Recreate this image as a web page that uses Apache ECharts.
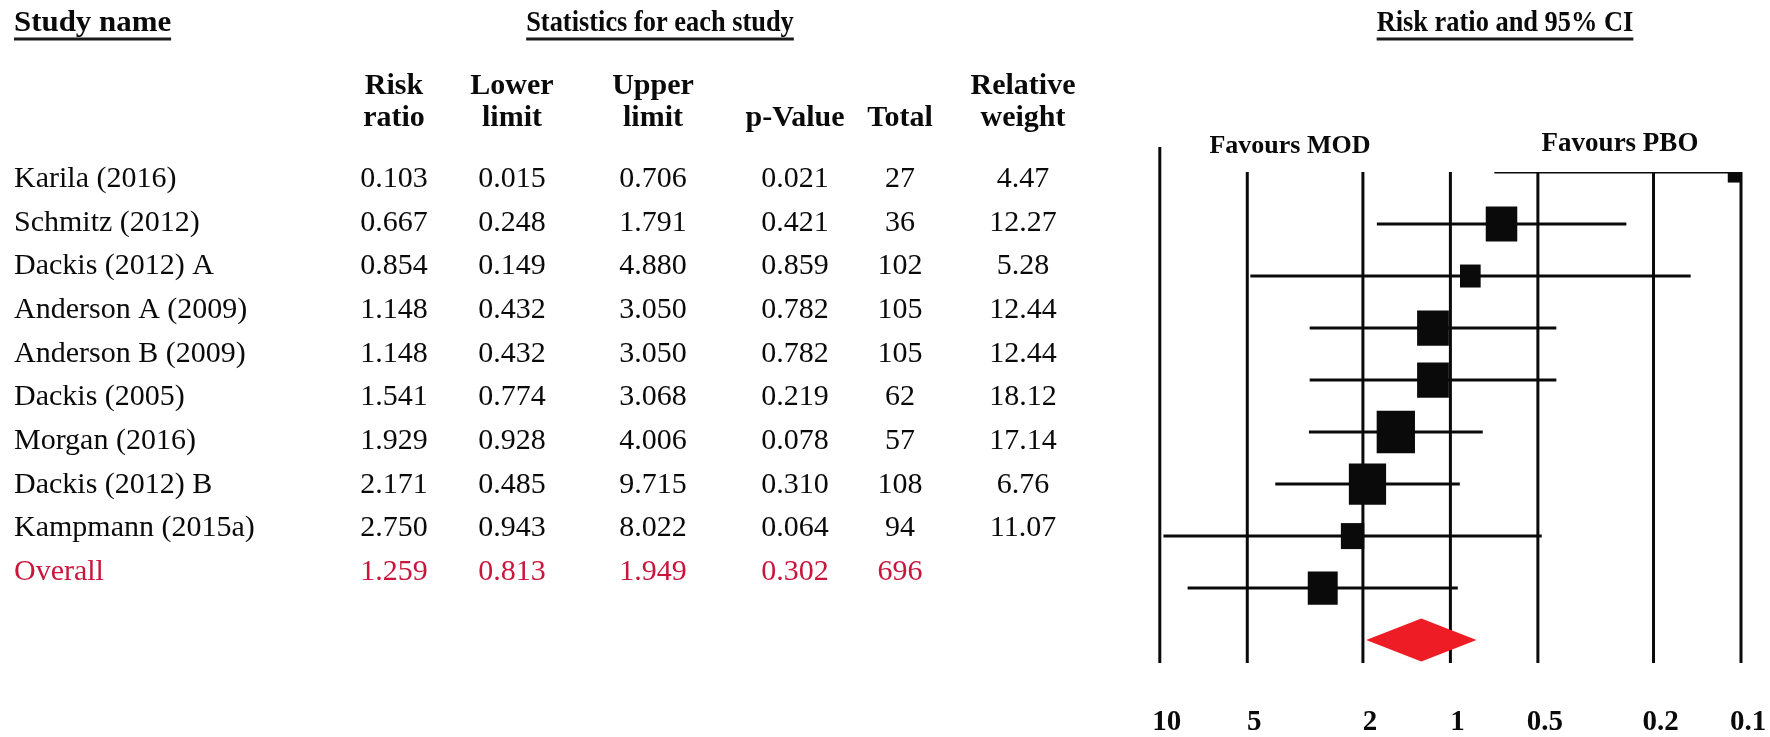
<!DOCTYPE html>
<html>
<head>
<meta charset="utf-8">
<script src="https://cdn.jsdelivr.net/npm/echarts@6/dist/echarts.min.js"></script>
<style>
  html, body { margin: 0; padding: 0; background: #ffffff; }
  #chart { width: 1770px; height: 737px; }
</style>
</head>
<body>
<div id="chart"></div>
<script>
// ---- Study data -------------------------------------------------------
const studyNames = [
  'Karila (2016)', 'Schmitz (2012)', 'Dackis (2012) A', 'Anderson A (2009)',
  'Anderson B (2009)', 'Dackis (2005)', 'Morgan (2016)', 'Dackis (2012) B',
  'Kampmann (2015a)', 'Overall'
];
const riskRatio  = [0.103, 0.667, 0.854, 1.148, 1.148, 1.541, 1.929, 2.171, 2.750, 1.259];
const lowerLimit = [0.015, 0.248, 0.149, 0.432, 0.432, 0.774, 0.928, 0.485, 0.943, 0.813];
const upperLimit = [0.706, 1.791, 4.880, 3.050, 3.050, 3.068, 4.006, 9.715, 8.022, 1.949];
const pValue     = [0.021, 0.421, 0.859, 0.782, 0.782, 0.219, 0.078, 0.310, 0.064, 0.302];
const totalN     = [27, 36, 102, 105, 105, 62, 57, 108, 94, 696];
const relWeight  = [4.47, 12.27, 5.28, 12.44, 12.44, 18.12, 17.14, 6.76, 11.07, null];
const axisTicks  = [10, 5, 2, 1, 0.5, 0.2, 0.1];

// ---- Layout / style ---------------------------------------------------
const SERIF = '"Liberation Serif", "Times New Roman", serif';
const INK = '#0a0a0a';
const OVERALL_TEXT = '#c8163c';
const DIAMOND_RED = '#ee1c24';
const colX = [14, 394, 512, 653, 795, 900, 1023];          // table column anchors
const headTop = ['', 'Risk', 'Lower', 'Upper', '', '', 'Relative'];
const headBottom = ['', 'ratio', 'limit', 'limit', 'p-Value', 'Total', 'weight'];
const ROW_MAX = 9.44;

const measure = (() => {
  const ctx = document.createElement('canvas').getContext('2d');
  return (text, font) => { ctx.font = font; return ctx.measureText(text).width; };
})();

const chart = echarts.init(document.getElementById('chart'), null, { renderer: 'canvas' });

// underlined bold heading, optionally condensed horizontally
function heading(text, x, y, align, squeeze) {
  const font = 'bold 30px ' + SERIF;
  const w = measure(text, font);
  const x0 = align === 'center' ? -w / 2 : 0;
  return {
    type: 'group', x, y, scaleX: squeeze || 1,
    children: [
      { type: 'text', style: { text, x: 0, y: 0, align, verticalAlign: 'middle', font, fill: INK } },
      { type: 'line', shape: { x1: x0, y1: 16, x2: x0 + w, y2: 16 },
        style: { stroke: '#1a1a1a', lineWidth: 3 } }
    ]
  };
}

const graphics = [
  heading('Study name', colX[0], 23, 'left', 1.03),
  heading('Statistics for each study', 660, 23, 'center', 0.88),
  heading('Risk ratio and 95% CI', 1505, 23, 'center', 0.88)
];

headTop.forEach((t, c) => {
  if (t) graphics.push({ type: 'text', style: { text: t, x: colX[c], y: 86, align: 'center',
    verticalAlign: 'middle', font: 'bold 30px ' + SERIF, fill: INK } });
});
headBottom.forEach((t, c) => {
  if (t) graphics.push({ type: 'text', style: { text: t, x: colX[c], y: 118, align: 'center',
    verticalAlign: 'middle', font: 'bold 30px ' + SERIF, fill: INK } });
});
graphics.push({ type: 'text', style: { text: 'Favours MOD', x: 1290, y: 146, align: 'center',
  verticalAlign: 'middle', font: 'bold 26px ' + SERIF, fill: INK } });
graphics.push({ type: 'text', style: { text: 'Favours PBO', x: 1620, y: 144, align: 'center',
  verticalAlign: 'middle', font: 'bold 27px ' + SERIF, fill: INK } });

const rowIdx = studyNames.map((_, i) => [i]);
const lastRow = studyNames.length - 1;

// table rows
function renderTableRow(params, api) {
  const i = api.value(0);
  const y = api.coord([0, i])[1];
  const fill = i === lastRow ? OVERALL_TEXT : INK;
  const cells = [
    studyNames[i], riskRatio[i].toFixed(3), lowerLimit[i].toFixed(3), upperLimit[i].toFixed(3),
    pValue[i].toFixed(3), String(totalN[i]), relWeight[i] == null ? '' : relWeight[i].toFixed(2)
  ];
  return {
    type: 'group',
    children: cells.map((t, c) => ({
      type: 'text',
      style: { text: t, x: api.coord([colX[c], i])[0], y, align: c === 0 ? 'left' : 'center',
        verticalAlign: 'middle', font: '30px ' + SERIF, fill }
    }))
  };
}

// vertical reference lines and their tick labels
function renderReference(params, api) {
  const t = api.value(0);
  const [x, yTop] = api.coord([t, 0]);
  const yBot = params.coordSys.y + params.coordSys.height;
  const first = params.dataIndex === 0;
  return {
    type: 'group',
    children: [
      { type: 'line', shape: { x1: x, y1: first ? yTop - 25 : yTop, x2: x, y2: yBot },
        style: { stroke: INK, lineWidth: 3 } },
      { type: 'text', style: { text: String(t), x: x + 7, y: yBot + 60, align: 'center',
        verticalAlign: 'middle', font: 'bold 29px ' + SERIF, fill: INK } }
    ]
  };
}

// whiskers, weighted boxes and the pooled diamond
function renderEffect(params, api) {
  const i = api.value(0);
  const rr = api.value(1), lo = api.value(2), hi = api.value(3), w = api.value(4);
  const [cx, cy] = api.coord([rr, i]);
  const xl = api.coord([lo, i])[0];
  const xh = api.coord([hi, i])[0];
  if (i === lastRow) {
    const h = 21.5;
    return {
      type: 'polygon',
      shape: { points: [[xl, cy], [cx, cy - h], [xh, cy], [cx, cy + h]] },
      style: { fill: DIAMOND_RED }
    };
  }
  const bw = 9 * Math.sqrt(w), bh = 10 * Math.sqrt(w);
  return {
    type: 'group',
    children: [
      { type: 'line', shape: { x1: xl, y1: cy, x2: xh, y2: cy }, style: { stroke: INK, lineWidth: 3 } },
      { type: 'rect', shape: { x: cx - bw / 2, y: cy - bh / 2, width: bw, height: bh }, style: { fill: INK } }
    ]
  };
}

chart.setOption({
  animation: false,
  backgroundColor: '#ffffff',
  grid: [
    { left: 1159.8, right: 1770 - 1741, top: 172, bottom: 737 - 663 },
    { left: 0, right: 0, top: 179, bottom: 737 - 572 }
  ],
  xAxis: [
    { gridIndex: 0, type: 'log', logBase: 10, min: 0.1, max: 10, inverse: true, show: false },
    { gridIndex: 1, type: 'value', min: 0, max: 1770, show: false }
  ],
  yAxis: [
    { gridIndex: 0, type: 'value', min: 0, max: ROW_MAX, inverse: true, show: false },
    { gridIndex: 1, type: 'category', data: studyNames, boundaryGap: false, inverse: true, show: false }
  ],
  graphic: graphics,
  series: [
    { type: 'custom', xAxisIndex: 1, yAxisIndex: 1, data: rowIdx, renderItem: renderTableRow, silent: true },
    { type: 'custom', xAxisIndex: 0, yAxisIndex: 0, data: axisTicks.map(t => [t]),
      renderItem: renderReference, clip: false, silent: true },
    { type: 'custom', xAxisIndex: 0, yAxisIndex: 0, clip: true, silent: true,
      data: studyNames.map((_, i) => [i, riskRatio[i], lowerLimit[i], upperLimit[i], relWeight[i] == null ? 0 : relWeight[i]]),
      renderItem: renderEffect }
  ]
});
</script>
</body>
</html>
